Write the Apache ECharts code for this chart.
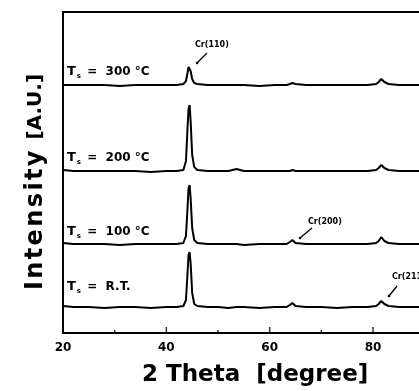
<!DOCTYPE html>
<html>
<head>
<meta charset="utf-8">
<script src="https://cdn.jsdelivr.net/npm/echarts@6/dist/echarts.min.js"></script>
<style>
  html, body { margin: 0; padding: 0; background: #fff; }
  #chart { width: 419px; height: 391px; }
</style>
</head>
<body>
<div id="chart"></div>
<script>
// 2 theta positions shared by all four scans
const theta = [20, 22, 25, 28, 31, 34, 37, 40, 42, 43.3, 43.8, 44.1, 44.3, 44.5, 44.7, 45.0, 45.4, 46, 48, 50,
  52, 53.6, 55, 58, 61, 63.3, 63.9, 64.4, 65.0, 67, 70, 73, 76, 79, 80.6, 81.1, 81.6, 82.2, 83.0, 85, 88, 90];

// intensities (arbitrary units, each scan stacked with its own offset)
const rtScan = [27, 26, 26, 25, 26, 26, 25, 26, 26, 27, 33, 60, 78, 81, 70, 40, 29, 27, 26, 26,
  25, 26, 26, 25, 26, 26, 28, 30, 27, 26, 26, 25, 26, 26, 27, 29, 32, 29, 27, 26, 26, 26];
const scan100 = [90, 89, 89, 89, 88, 89, 89, 89, 89, 90, 97, 125, 145, 148, 135, 105, 93, 90, 89, 89,
  89, 89, 88, 89, 89, 89, 91, 93, 90, 89, 89, 89, 89, 89, 90, 92, 96, 92, 90, 89, 89, 89];
const scan200 = [163, 162, 162, 162, 162, 162, 161, 162, 162, 163, 172, 205, 224, 228, 212, 178, 166, 163, 162, 162,
  162, 164, 162, 162, 162, 162, 162, 163, 162, 162, 162, 162, 162, 162, 163, 165, 168, 165, 163, 162, 162, 162];
const scan300 = [248, 248, 248, 248, 247, 248, 248, 248, 248, 249, 252, 260, 266, 268, 262, 254, 250, 249, 248, 248,
  248, 248, 248, 247, 248, 248, 249, 250, 249, 248, 248, 248, 248, 248, 249, 251, 254, 251, 249, 248, 248, 248];

const scanNames = ['R.T.', '100', '200', '300'];
const xTicks = [20, 40, 60, 80];
const xMinorTicks = [30, 50, 70];

const chart = echarts.init(document.getElementById('chart'));

function pairs(ys) {
  return theta.map((t, i) => [t, ys[i]]);
}

function scanSeries(name, ys) {
  return {
    name: name,
    type: 'line',
    data: pairs(ys),
    showSymbol: false,
    lineStyle: {color: '#000', width: 2},
    silent: true,
  };
}

function tickSeries(values, len) {
  // inside tick marks sitting on the bottom axis
  return {
    type: 'scatter',
    silent: true,
    symbol: 'rect',
    symbolSize: [1.5, len],
    symbolOffset: [0, -len / 2],
    itemStyle: {color: '#000'},
    data: values.map(v => [v, 0]),
  };
}

const labelFont = 'DejaVu Sans';

function tempLabel(y, value) {
  return {
    type: 'text',
    left: 67,
    top: y,
    style: {
      text: '{t|T}{s|s}{e| =  ' + value + '}',
      rich: {
        t: {fontSize: 13, fontWeight: 'bold', fontFamily: labelFont, fill: '#000'},
        s: {fontSize: 7, fontWeight: 'bold', fontFamily: labelFont, fill: '#000', padding: [9, 2, 0, 1]},
        e: {fontSize: 12, fontWeight: 'bold', fontFamily: labelFont, fill: '#000'},
      },
    },
  };
}

function peakNote(x, y, text, ax1, ay1, ax2, ay2) {
  return [
    {
      type: 'text', left: x, top: y,
      style: {text: text, fontSize: 8, fontWeight: 'bold', fontFamily: labelFont, fill: '#000'},
    },
    {
      type: 'line',
      shape: {x1: ax1, y1: ay1, x2: ax2, y2: ay2},
      style: {stroke: '#000', lineWidth: 1.3},
    },
    {
      type: 'circle',
      shape: {cx: ax2, cy: ay2, r: 1.3},
      style: {fill: '#000'},
    },
  ];
}

const option = {
  backgroundColor: '#fff',
  animation: false,
  grid: {left: 63, right: 0, top: 12, bottom: 58},
  xAxis: [
    {
      type: 'value',
      min: 20, max: 88.9, interval: 10,
      axisLine: {show: true, lineStyle: {color: '#000', width: 2}},
      axisTick: {show: false},
      splitLine: {show: false},
      axisLabel: {
        margin: 9,
        color: '#000', fontSize: 12, fontWeight: 'bold', fontFamily: labelFont,
        showMaxLabel: false,
        formatter: v => (xTicks.indexOf(v) >= 0 ? String(v) : ''),
      },
    },
    {
      type: 'value', position: 'top',
      min: 20, max: 88.9,
      axisLine: {show: true, onZero: false, lineStyle: {color: '#000', width: 2}},
      axisTick: {show: false},
      axisLabel: {show: false},
      splitLine: {show: false},
    },
  ],
  yAxis: {
    type: 'value',
    min: 0, max: 321,
    axisLine: {show: true, lineStyle: {color: '#000', width: 2}},
    axisTick: {show: false},
    axisLabel: {show: false},
    splitLine: {show: false},
  },
  series: [
    scanSeries(scanNames[0], rtScan),
    scanSeries(scanNames[1], scan100),
    scanSeries(scanNames[2], scan200),
    scanSeries(scanNames[3], scan300),
    tickSeries(xTicks, 6),
    tickSeries(xMinorTicks, 3),
  ],
  graphic: [
    {
      type: 'text', left: 142, top: 364,
      style: {text: '2 Theta  [degree]', fontSize: 23, fontWeight: 'bold', fontFamily: labelFont, fill: '#000'},
    },
    {
      type: 'text', x: 36, y: 182, rotation: Math.PI / 2,
      style: {
        text: '{a|I\u200an\u200at\u200ae\u200an\u200as\u200ai\u200at\u200ay}{g| }{b|[A.U.]}',
        align: 'center', verticalAlign: 'middle',
        rich: {
          a: {fontSize: 24, fontWeight: 'bold', fontFamily: labelFont, fill: '#000'},
          g: {fontSize: 22, fontFamily: labelFont, width: 11},
          b: {fontSize: 20, fontWeight: 'bold', fontFamily: labelFont, fill: '#000'},
        },
      },
    },
    tempLabel(65, '300 °C'),
    tempLabel(151, '200 °C'),
    tempLabel(225, '100 °C'),
    tempLabel(280, 'R.T.'),
    ...peakNote(195, 41, 'Cr(110)', 207, 53, 197, 63),
    ...peakNote(308, 218, 'Cr(200)', 312, 228, 300, 238),
    ...peakNote(392, 273, 'Cr(211)', 397, 286, 389, 296),
  ],
};

chart.setOption(option);
</script>
</body>
</html>
